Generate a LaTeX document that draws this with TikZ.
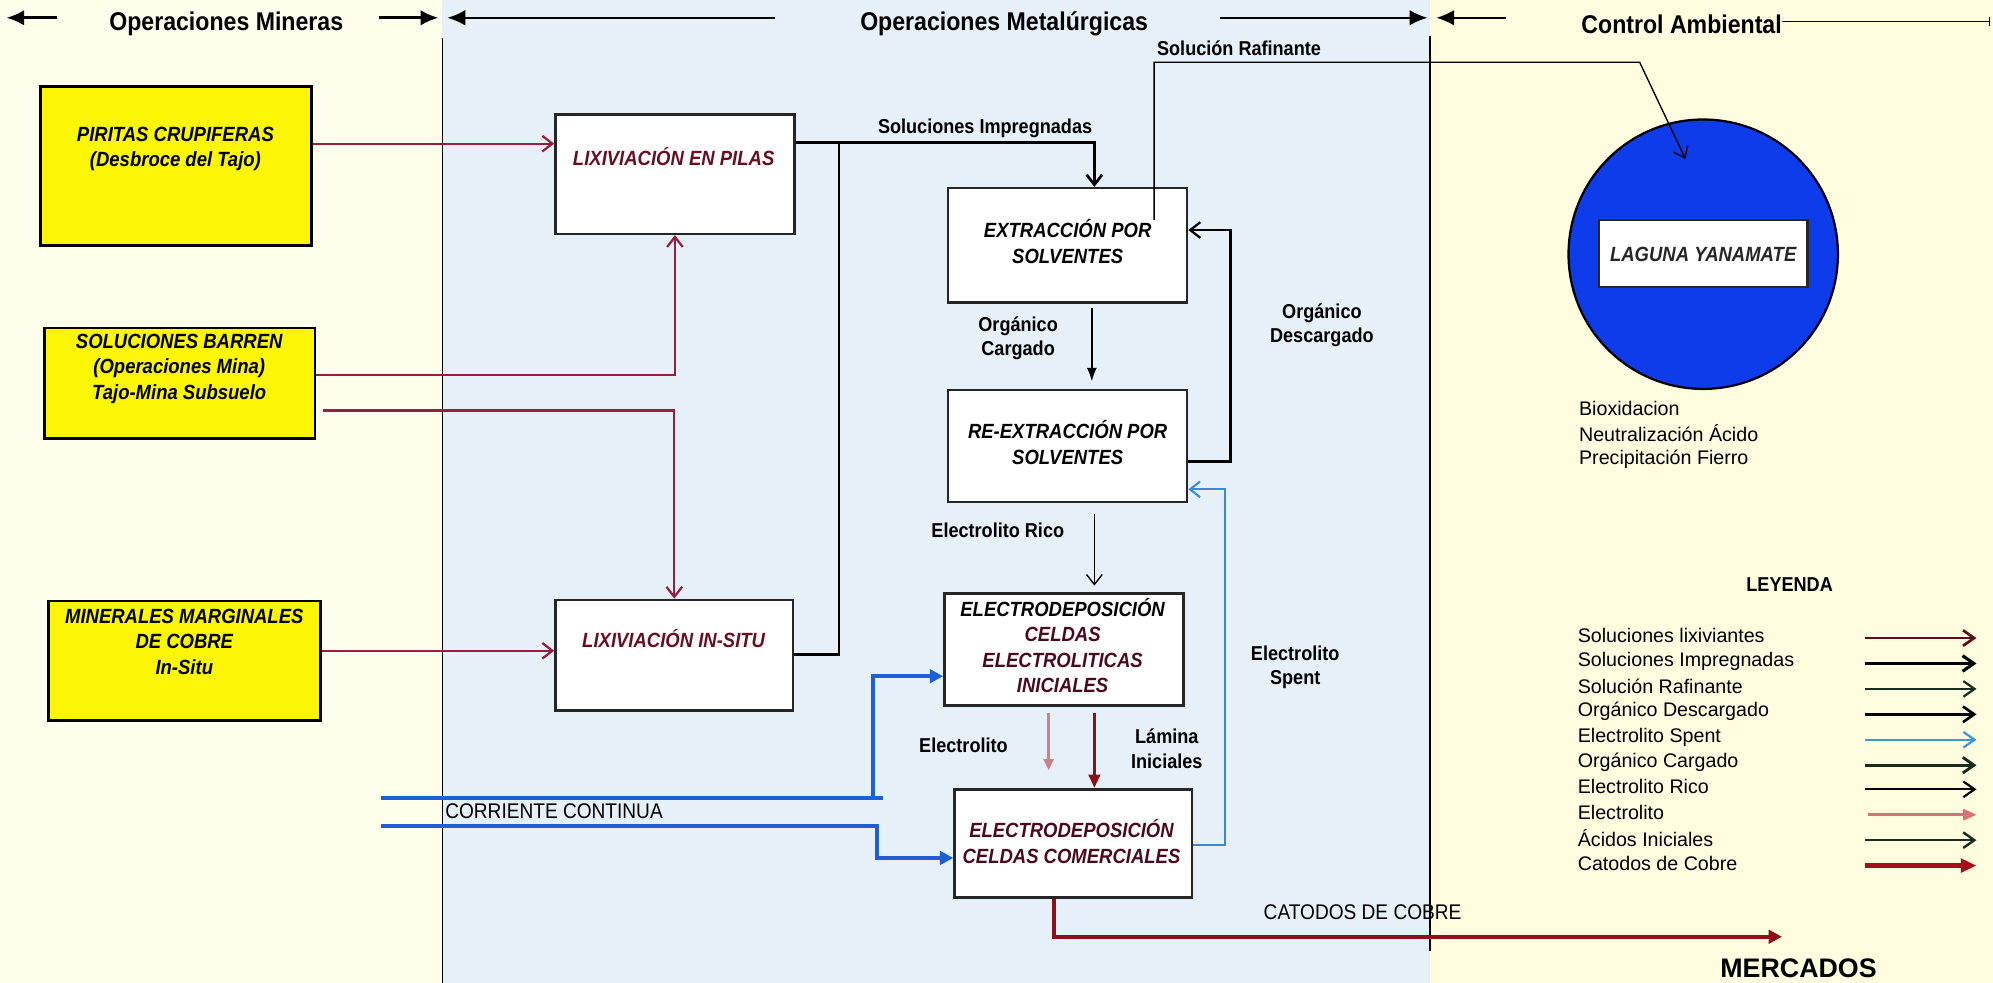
\documentclass[tikz,border=0pt]{standalone}
\usepackage{fontspec}
\setmainfont{Liberation Sans}
\newfontfamily\cond[FakeStretch=0.9]{Liberation Sans}
\usetikzlibrary{arrows.meta,fit,calc}
\definecolor{bgL}{RGB}{255,253,236}
\definecolor{bgM}{RGB}{229,240,248}
\definecolor{bgR}{RGB}{255,252,224}
\definecolor{yfill}{RGB}{252,245,5}
\definecolor{lixc}{RGB}{150,30,62}
\definecolor{boxred}{RGB}{105,14,32}
\definecolor{boxredd}{RGB}{75,10,28}
\definecolor{dcblue}{RGB}{30,95,215}
\definecolor{spentc}{RGB}{60,135,215}
\definecolor{lagc}{RGB}{15,60,235}
\definecolor{catc}{RGB}{140,15,25}
\definecolor{pinkc}{RGB}{210,125,140}
\definecolor{dkgreen}{RGB}{25,45,30}
\definecolor{lgmaroon}{RGB}{95,10,25}
\definecolor{lgblue}{RGB}{60,150,220}
\definecolor{lgpink}{RGB}{220,110,120}
\definecolor{lgcat}{RGB}{165,15,25}
\begin{document}
\begin{tikzpicture}[x=0.02cm,y=-0.02cm,
  ybx/.style={draw=black,line width=1.1pt,fill=yfill,inner sep=0pt},
  wbx/.style={draw=black!85,line width=1.1pt,fill=white,inner sep=0pt},
  btxt/.style={font=\cond\bfseries\itshape\fontsize{9.2}{11.4}\selectfont,align=center,inner sep=0pt},
  lbl/.style={font=\cond\bfseries\fontsize{9}{11}\selectfont,align=center,inner sep=0pt},
  hdr/.style={font=\cond\bfseries\fontsize{11.5}{13}\selectfont,inner sep=0pt},
  leg/.style={font=\fontsize{8.8}{10}\selectfont,anchor=west,inner sep=0pt},
  barb/.style={-{Straight Barb[length=4.5pt,width=7pt]}},
  tri/.style={-{Triangle[length=6pt,width=6pt]}},
  hd/.style={line width=1.4pt,-{Latex[length=8pt,width=7pt]}},
  hdl/.style={line width=0.9pt,-{Latex[length=8pt,width=7pt]}},
  lixl/.style={draw=lixc,line width=1pt},
  blk/.style={draw=black,line width=0.7pt},
  dc/.style={draw=dcblue,line width=1.8pt},
  lgarrow/.style={-{Straight Barb[length=5pt,width=7pt]}},
]
\useasboundingbox (0,0) rectangle (1568,773);
% backgrounds
\fill[bgL] (0,0) rectangle (348,773);
\fill[bgM] (348,0) rectangle (1125,773);
\fill[bgR] (1125,0) rectangle (1568,773);
\draw[line width=0.7pt] (348,30) -- (348,773);
\draw[line width=0.7pt] (1125,28) -- (1125,748);

% header
\coordinate (h1a) at (45,14); \coordinate (h1b) at (5,14);
\draw[hd] (h1a) -- (h1b);
\node[hdr] (hMin) at (178,19) {Operaciones Mineras};
\coordinate (h2a) at (298,14); \coordinate (h2b) at (345,14);
\draw[hd] (h2a) -- (h2b);
\coordinate (h3a) at (610,14); \coordinate (h3b) at (352,14);
\draw[hdl] (h3a) -- (h3b);
\node[hdr] (hMet) at (790,19) {Operaciones Metalúrgicas};
\coordinate (h4a) at (960,14); \coordinate (h4b) at (1123,14);
\draw[hdl] (h4a) -- (h4b);
\coordinate (h5a) at (1185,14); \coordinate (h5b) at (1130,14);
\draw[hdl] (h5a) -- (h5b);
\node[hdr] (hAmb) at (1323,19) {Control Ambiental};
\coordinate (h6b) at (1566,17);
\draw[line width=0.7pt,-{Bar[width=4pt]}] (hAmb.east |- h6b) -- (h6b);

% yellow boxes
\node[ybx, fit={(32,68) (245,193)}] (pir) {};
\node[ybx, fit={(35,258) (248,345)}] (sol) {};
\node[ybx, fit={(38,473) (252,567)}] (min) {};
% white boxes
\node[wbx, fit={(437,90) (625,184)}] (lixp) {};
\node[wbx, fit={(437,472) (624,559)}] (lixi) {};
\node[wbx, fit={(746,148) (934,238)}] (ext) {};
\node[wbx, fit={(746,307) (934,395)}] (reext) {};
\node[wbx, fit={(743,467) (931,555)}] (ei) {};
\node[wbx, fit={(751,621) (938,706)}] (ec) {};

% box texts
\node[btxt] (pirT) at (138,117) {PIRITAS CRUPIFERAS\\(Desbroce del Tajo)};
\node[btxt] (solT) at (141,290) {SOLUCIONES BARREN\\(Operaciones Mina)\\Tajo-Mina Subsuelo};
\node[btxt] (minT) at (145,505) {MINERALES MARGINALES\\DE COBRE\\In-Situ};
\node[btxt,text=boxred] (lixpT) at (530,123) {LIXIVIACIÓN EN PILAS};
\node[btxt,text=boxred] (lixiT) at (530,502) {LIXIVIACIÓN IN-SITU};
\node[btxt] (extT) at (840,190) {EXTRACCIÓN POR\\SOLVENTES};
\node[btxt] (reextT) at (840,348) {RE-EXTRACCIÓN POR\\SOLVENTES};
\node[btxt] (eiT) at (836,508) {ELECTRODEPOSICIÓN\\{\color{boxredd}CELDAS}\\{\color{boxredd}ELECTROLITICAS}\\{\color{boxredd}INICIALES}};
\node[btxt,text=boxredd] (ecT) at (843,662) {ELECTRODEPOSICIÓN\\CELDAS COMERCIALES};

% laguna
\node[circle,draw=black,line width=1pt,fill=lagc,minimum size=4.24cm,inner sep=0pt] (lag) at (1340,200) {};
\node[wbx,line width=1pt,fit={(1258,173) (1422,226)}] (lagR) {};
\node[btxt,text=black!85] (lagT) at (1340,200) {LAGUNA YANAMATE};
\node[leg] (bio1) at (1242,321) {Bioxidacion};
\node[leg] (bio2) at (1242,341) {Neutralización Ácido};
\node[leg] (bio3) at (1242,361) {Precipitación Fierro};

% connectors: leaching
\draw[lixl,barb] (pir.east |- 0,113) -- (lixp.west |- 0,113);
\draw[lixl,barb] (sol.east |- 0,295) -| (lixp.south);
\draw[lixl,barb] ([xshift=0.1cm]sol.east |- 0,323) -| (lixi.north);
\draw[lixl,barb] (min.east |- 0,512) -- (lixi.west |- 0,512);

% soluciones impregnadas
\coordinate (jn) at (660,112);
\draw[blk,line width=1.2pt,barb] (lixp.east |- jn) -| (ext.north -| 861,0);
\draw[blk,line width=1.2pt] (lixi.east |- 0,515) -| (jn);
\node[lbl] (lSI) at (775,101) {Soluciones Impregnadas};

% solucion rafinante
\coordinate (rafs) at (908,173);
\coordinate (rafb) at (1290,49);
\coordinate (raft) at (1326,125);
\draw[blk,line width=0.6pt,barb] (rafs) |- (rafb) -- (raft);
\node[lbl,anchor=west] (lSR) at (910,38) {Solución Rafinante};

% organico cargado
\draw[blk,line width=0.6pt,-{Latex[length=6pt,width=4.5pt]},shorten <=2pt,shorten >=3.5pt] (ext.south -| 859,0) -- (reext.north -| 859,0);
\node[lbl] (lOC) at (801,266) {Orgánico\\Cargado};

% organico descargado
\draw[blk,line width=1pt,barb] (reext.east |- 0,363) -| (968,270) |- (ext.east |- 0,181);
\node[lbl] (lOD) at (1040,256) {Orgánico\\Descargado};

% electrolito rico
\draw[blk,line width=0.6pt,barb,shorten <=5pt,shorten >=3pt] (reext.south -| 861,0) -- (ei.north -| 861,0);
\node[lbl] (lER) at (785,417) {Electrolito Rico};

% electrolito & lamina
\draw[draw=pinkc,line width=1.1pt,-{Triangle[length=5pt,width=4.5pt]},shorten <=3pt,shorten >=8pt] (ei.south -| 825,0) -- (ec.north -| 825,0);
\node[lbl] (lEl) at (758,586) {Electrolito};
\draw[draw=catc,line width=1.5pt,-{Triangle[length=6pt,width=5pt]},shorten <=3pt] (ei.south -| 861,0) -- (ec.north -| 861,0);
\node[lbl] (lLI) at (918,589) {Lámina\\Iniciales};

% electrolito spent
\draw[draw=spentc,line width=0.9pt,barb] (ec.east |- 0,665) -| (964,500) |- (reext.east |- 0,385);
\node[lbl] (lES) at (1019,525) {Electrolito\\Spent};

% corriente continua
\coordinate (cc1) at (300,628);
\coordinate (cc1e) at (695,628);
\coordinate (cc2) at (300,650);
\draw[dc] (cc1) -- (cc1e);
\draw[dc,tri] (687,628) |- (ei.west |- 0,532);
\draw[dc,tri] (cc2) -| (690,662) |- (ec.west |- 0,675);
\node[font=\cond\fontsize{9.5}{11}\selectfont,anchor=west,inner sep=0pt] (lCC) at (350,638) {CORRIENTE CONTINUA};

% catodos
\coordinate (merc) at (1402,737);
\draw[draw=catc,line width=1.8pt,tri] (ec.south -| 829,0) |- (merc);
\node[font=\cond\fontsize{9.5}{11}\selectfont,inner sep=0pt] (lCat) at (1072,718) {CATODOS DE COBRE};
\node[font=\bfseries\fontsize{12}{14}\selectfont,inner sep=0pt] (lMerc) at (1415,762) {MERCADOS};

% legend
\node[lbl] (legT) at (1408,460) {LEYENDA};
\node[leg] (g1) at (1241,500) {Soluciones lixiviantes};
\node[leg] (g2) at (1241,520) {Soluciones Impregnadas};
\node[leg] (g3) at (1241,540) {Solución Rafinante};
\node[leg] (g4) at (1241,560) {Orgánico Descargado};
\node[leg] (g5) at (1241,580) {Electrolito Spent};
\node[leg] (g6) at (1241,600) {Orgánico Cargado};
\node[leg] (g7) at (1241,619) {Electrolito Rico};
\node[leg] (g8) at (1241,639) {Electrolito};
\node[leg] (g9) at (1241,659) {Ácidos Iniciales};
\node[leg] (g10) at (1241,679) {Catodos de Cobre};
\draw[lgarrow,draw=lgmaroon,line width=1.2pt] (1467,502) -- (1555,502);
\draw[lgarrow,draw=black,line width=1.4pt] (1467,522) -- (1555,522);
\draw[lgarrow,draw=dkgreen,line width=1pt] (1467,542) -- (1555,542);
\draw[lgarrow,draw=black,line width=1.2pt] (1467,562) -- (1555,562);
\draw[lgarrow,draw=lgblue,line width=1pt] (1467,582) -- (1555,582);
\draw[lgarrow,draw=dkgreen,line width=1.3pt] (1467,602) -- (1555,602);
\draw[lgarrow,draw=black,line width=1pt] (1467,621) -- (1555,621);
\draw[draw=lgpink,line width=1.2pt,-{Triangle[length=6pt,width=5pt]}] (1470,641) -- (1555,641);
\draw[lgarrow,draw=dkgreen,line width=1.1pt] (1467,661) -- (1555,661);
\draw[draw=lgcat,line width=2pt,-{Triangle[length=7pt,width=6pt]}] (1467,681) -- (1555,681);
\end{tikzpicture}
\end{document}
